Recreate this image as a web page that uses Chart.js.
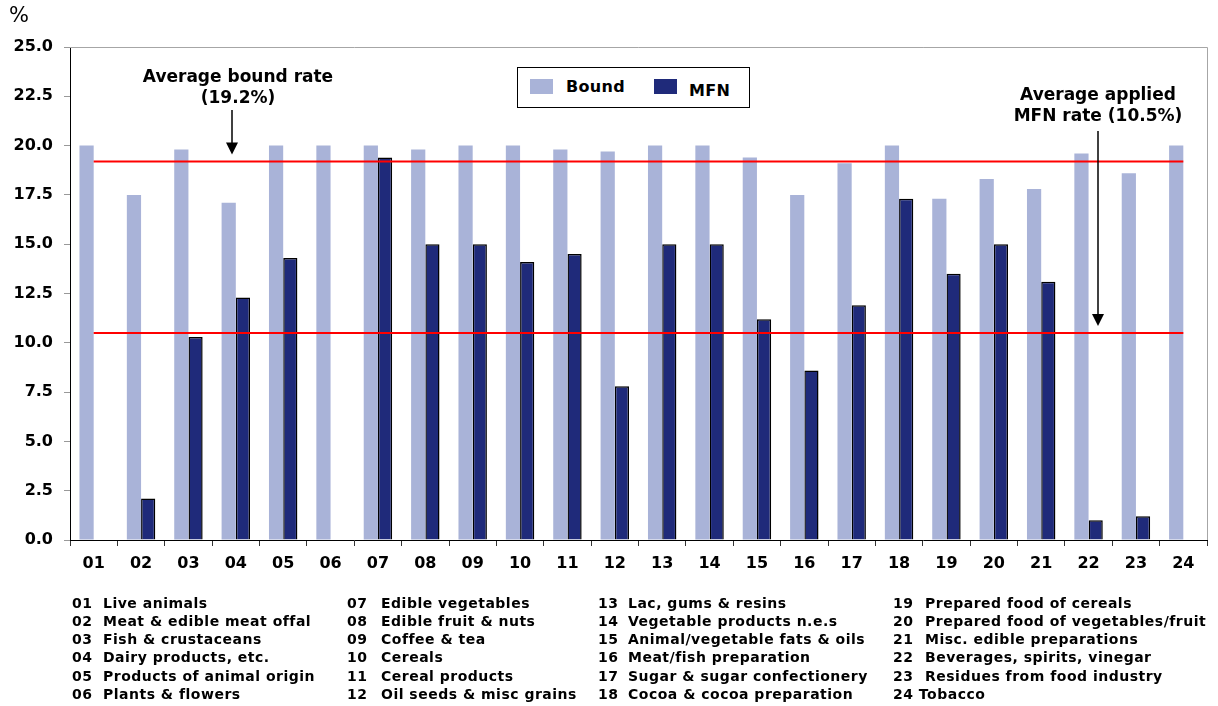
<!DOCTYPE html>
<html>
<head>
<meta charset="utf-8">
<script src="https://cdn.jsdelivr.net/npm/chart.js@4.4.0/dist/chart.umd.min.js"></script>
<style>
  html, body { margin: 0; padding: 0; background: #fff; }
  #wrap { position: relative; width: 1218px; height: 706px; font-family: "DejaVu Sans", Verdana, sans-serif; color: #000; }
  #chart { position: absolute; left: 0; top: 0; }
  .pct { position: absolute; left: 9px; top: 3px; font-size: 21px; }
  .legend { position: absolute; left: 517px; top: 67px; width: 233px; height: 41px; border: 1px solid #000; box-sizing: border-box; background: #fff; }
  .legend .sw { position: absolute; width: 23px; height: 15px; top: 11px; }
  .legend .lbl { position: absolute; font-weight: bold; font-size: 16px; letter-spacing: 0.3px; }
  .codes .row { position: absolute; font-weight: bold; font-size: 14px; letter-spacing: 0.5px; white-space: nowrap; line-height: 16px; }
</style>
</head>
<body>
<div id="wrap">
  <canvas id="chart" width="1218" height="706"></canvas>
  <div class="pct">%</div>
  <div class="legend" id="legend"></div>
  <div class="codes" id="codes"></div>
</div>
<script>
// HS chapter codes (agricultural products) and their descriptions
const categories = ['01','02','03','04','05','06','07','08','09','10','11','12',
                    '13','14','15','16','17','18','19','20','21','22','23','24'];
const chapterNames = [
  'Live animals', 'Meat & edible meat offal', 'Fish & crustaceans', 'Dairy products, etc.',
  'Products of animal origin', 'Plants & flowers', 'Edible vegetables', 'Edible fruit & nuts',
  'Coffee & tea', 'Cereals', 'Cereal products', 'Oil seeds & misc grains',
  'Lac, gums & resins', 'Vegetable products n.e.s', 'Animal/vegetable fats & oils', 'Meat/fish preparation',
  'Sugar & sugar confectionery', 'Cocoa & cocoa preparation', 'Prepared food of cereals', 'Prepared food of vegetables/fruit',
  'Misc. edible preparations', 'Beverages, spirits, vinegar', 'Residues from food industry', 'Tobacco'
];

// Average tariff rates by chapter (%)
const boundRates = [20.0, 17.5, 19.8, 17.1, 20.0, 20.0, 20.0, 19.8, 20.0, 20.0, 19.8, 19.7,
                    20.0, 20.0, 19.4, 17.5, 19.1, 20.0, 17.3, 18.3, 17.8, 19.6, 18.6, 20.0];
const mfnRates   = [null, 2.1, 10.3, 12.3, 14.3, null, 19.4, 15.0, 15.0, 14.1, 14.5, 7.8,
                    15.0, 15.0, 11.2, 8.6, 11.9, 17.3, 13.5, 15.0, 13.1, 1.0, 1.2, null];

// Overall averages
const averageBound = 19.2;
const averageMfn = 10.5;

// Y axis range
const yMin = 0, yMax = 25, yStep = 2.5;

const BOUND_COLOR = '#a9b3d8';
const MFN_COLOR = '#1f2a7a';
const FONT = '"DejaVu Sans", Verdana, sans-serif';

// Legend box
const legendEl = document.getElementById('legend');
legendEl.innerHTML =
  '<div class="sw" style="left:12px;background:' + BOUND_COLOR + '"></div>' +
  '<div class="lbl" style="left:48px;top:9px">Bound</div>' +
  '<div class="sw" style="left:136px;background:' + MFN_COLOR + '"></div>' +
  '<div class="lbl" style="left:171px;top:13px">MFN</div>';

// Chapter key below the chart, four columns of six
const codesEl = document.getElementById('codes');
const colNum = [72, 347, 598, 893];
const colName = [103, 381, 628, 925];
categories.forEach((c, i) => {
  const col = Math.floor(i / 6), row = i % 6;
  const top = 594.5 + row * 18.3;
  if (c === '24') {
    codesEl.insertAdjacentHTML('beforeend',
      '<div class="row" style="left:' + colNum[col] + 'px;top:' + top + 'px">' + c + ' ' + chapterNames[i] + '</div>');
  } else {
    codesEl.insertAdjacentHTML('beforeend',
      '<div class="row" style="left:' + colNum[col] + 'px;top:' + top + 'px">' + c + '</div>' +
      '<div class="row" style="left:' + colName[col] + 'px;top:' + top + 'px">' + chapterNames[i] + '</div>');
  }
});

// Frame, average lines and their callouts
const overlayPlugin = {
  id: 'overlay',
  beforeDatasetsDraw(chart) {
    const { ctx, chartArea: a } = chart;
    ctx.save();
    ctx.strokeStyle = '#a6a6a6';
    ctx.lineWidth = 1;
    ctx.beginPath();
    ctx.moveTo(a.left, a.top + 0.5);
    ctx.lineTo(a.right + 0.5, a.top + 0.5);
    ctx.lineTo(a.right + 0.5, a.bottom);
    ctx.stroke();
    ctx.restore();
  },
  afterDatasetsDraw(chart) {
    const { ctx } = chart;
    const xs = chart.scales.x, ys = chart.scales.y;
    const x0 = xs.getPixelForValue(0);
    const x1 = xs.getPixelForValue(categories.length - 1);
    ctx.save();
    ctx.strokeStyle = '#ff0000';
    ctx.lineWidth = 2;
    [averageBound, averageMfn].forEach(v => {
      const y = ys.getPixelForValue(v);
      ctx.beginPath();
      ctx.moveTo(x0, y);
      ctx.lineTo(x1, y);
      ctx.stroke();
    });

    const arrow = (x, yStart, yTip) => {
      ctx.strokeStyle = '#000';
      ctx.fillStyle = '#000';
      ctx.lineWidth = 1.5;
      ctx.beginPath();
      ctx.moveTo(x, yStart);
      ctx.lineTo(x, yTip - 8);
      ctx.stroke();
      ctx.beginPath();
      ctx.moveTo(x - 6, yTip - 12);
      ctx.lineTo(x + 6, yTip - 12);
      ctx.lineTo(x, yTip);
      ctx.closePath();
      ctx.fill();
    };

    ctx.font = 'bold 17px ' + FONT;
    ctx.fillStyle = '#000';
    ctx.textAlign = 'center';
    ctx.textBaseline = 'middle';
    ctx.fillText('Average bound rate', 238, 78);
    ctx.fillText('(' + averageBound.toFixed(1) + '%)', 238, 99);
    arrow(232, 110, ys.getPixelForValue(averageBound) - 7);

    ctx.fillStyle = '#000';
    ctx.fillText('Average applied', 1098, 96);
    ctx.fillText('MFN rate (' + averageMfn.toFixed(1) + '%)', 1098, 117);
    arrow(1098, 131, ys.getPixelForValue(averageMfn) - 7);
    ctx.restore();
  }
};

new Chart(document.getElementById('chart'), {
  type: 'bar',
  data: {
    labels: categories,
    datasets: [
      {
        label: 'Bound',
        data: boundRates,
        backgroundColor: BOUND_COLOR,
        borderWidth: 0,
        categoryPercentage: 0.6,
        barPercentage: 1.0
      },
      {
        label: 'MFN',
        data: mfnRates,
        backgroundColor: MFN_COLOR,
        borderColor: '#000',
        borderWidth: 1.5,
        borderSkipped: 'bottom',
        categoryPercentage: 0.6,
        barPercentage: 1.0
      }
    ]
  },
  options: {
    responsive: false,
    animation: false,
    layout: { padding: { top: 47, right: 11, left: 0, bottom: 0 } },
    plugins: {
      legend: { display: false },
      tooltip: { enabled: false }
    },
    scales: {
      x: {
        offset: true,
        grid: { display: true, offset: true, drawOnChartArea: false, tickLength: 6, color: '#333', tickColor: '#333' },
        border: { display: true, color: '#000', width: 1 },
        ticks: { color: '#000', font: { family: FONT, size: 16, weight: 'bold' }, padding: 8, maxRotation: 0, autoSkip: false },
        afterFit(scale) { scale.height = 166; }
      },
      y: {
        min: yMin,
        max: yMax,
        grid: { display: true, drawOnChartArea: false, tickLength: 6, color: '#999', tickColor: '#999' },
        border: { display: true, color: '#000', width: 1 },
        ticks: {
          stepSize: yStep,
          color: '#000',
          padding: 11,
          font: { family: FONT, size: 16, weight: 'bold' },
          callback: v => Number(v).toFixed(1)
        },
        afterFit(scale) { scale.width = 70; }
      }
    }
  },
  plugins: [overlayPlugin]
});
</script>
</body>
</html>
